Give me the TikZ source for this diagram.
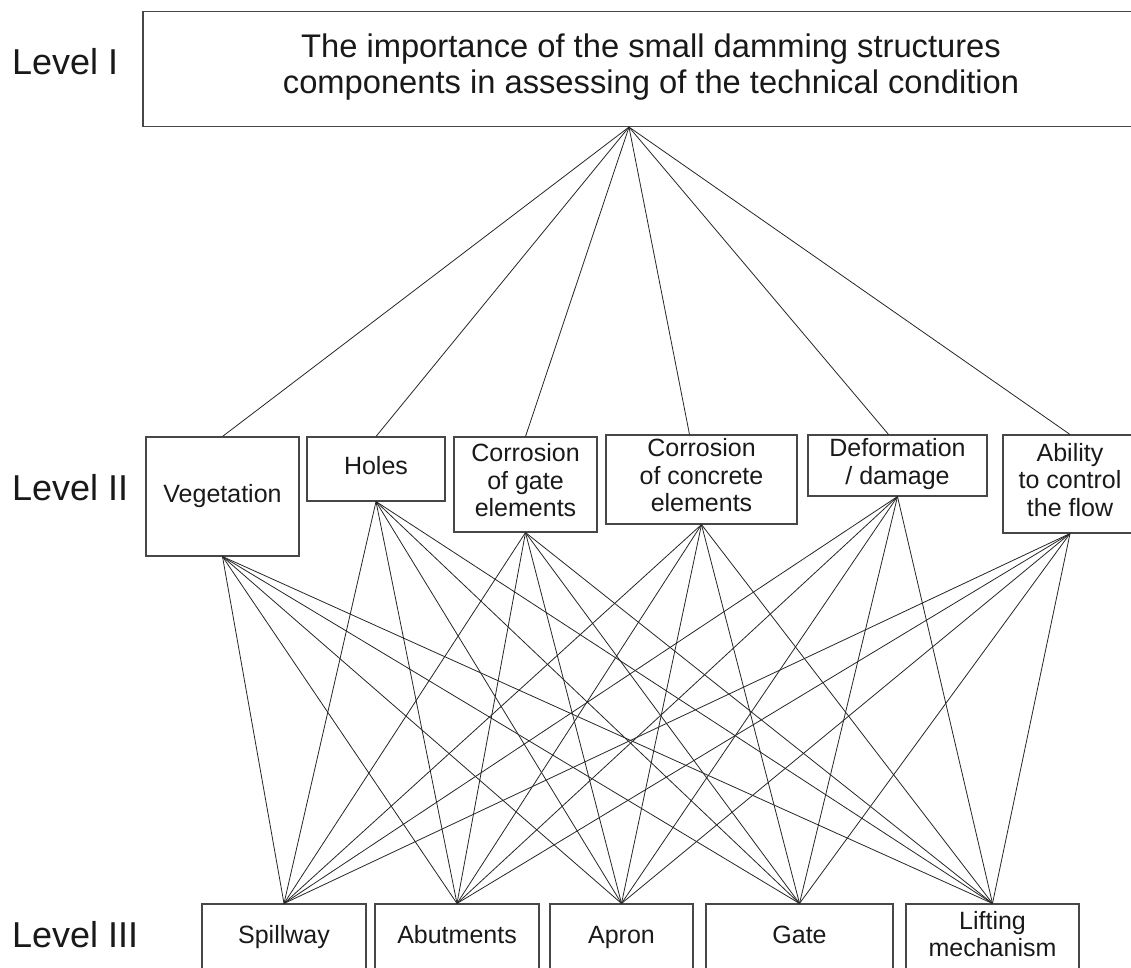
\documentclass[tikz,border=0pt]{standalone}
\usepackage{fontspec}
\setmainfont{Liberation Sans}
\begin{document}
\begin{tikzpicture}[x=1pt,y=-1pt,
  box/.style={draw=black!72, line width=1.1pt, inner sep=0pt, align=center,
    font=\fontsize{25}{27.5}\selectfont, text=black!90,
    execute at begin node=\strut, execute at end node=\strut},
  link/.style={draw=black!85, line width=0.8pt},
  lvl/.style={anchor=base west, font=\fontsize{36}{40}\selectfont, inner sep=0pt, text=black!90}]
\useasboundingbox (0,0) rectangle (1131,967);

% Level I
\node[box, minimum width=1016pt, minimum height=115pt, font=\fontsize{32.7}{36}\selectfont] (top) at (651,69)
  {The importance of the small damming structures\\components in assessing of the technical condition};
\coordinate (topC) at ([xshift=-22pt]top.south);

% Level II
\node[box, minimum width=153pt, minimum height=119pt] (veg) at (222.5,496.5) {Vegetation};
\node[box, minimum width=138pt, minimum height=64pt] (holes) at (376,469) {Holes};
\node[box, minimum width=143pt, minimum height=95pt] (cgate) at (525.5,484.5) {Corrosion\\of gate\\elements};
\node[box, minimum width=191pt, minimum height=89pt] (conc) at (701.5,479.5) {Corrosion\\of concrete\\elements};
\node[box, minimum width=179pt, minimum height=61pt] (deform) at (897.5,465.5) {Deformation\\/ damage};
\node[box, minimum width=134pt, minimum height=98pt] (abil) at (1070,484) {Ability\\to control\\the flow};
\coordinate (concN) at ([xshift=-12pt]conc.north);
\coordinate (defN) at ([xshift=-9pt]deform.north);

% Level III
\node[box, minimum width=164pt, minimum height=68pt] (spill) at (284,938) {Spillway};
\node[box, minimum width=164pt, minimum height=68pt] (abut) at (457,938) {Abutments};
\node[box, minimum width=143pt, minimum height=68pt] (apron) at (621.5,938) {Apron};
\node[box, minimum width=187pt, minimum height=68pt] (gate) at (799.5,938) {Gate};
\node[box, minimum width=173pt, minimum height=68pt] (lift) at (992.5,938) {Lifting\\mechanism};

% Level labels
\node[lvl] (l1) at (12,74) {Level I};
\node[lvl] (l2) at (12,500) {Level II};
\node[lvl] (l3) at (12,947) {Level III};

% connectors Level I -> Level II
\foreach \a in {veg,holes,cgate,abil}
  \draw[link] (topC) -- (\a.north);
\draw[link] (topC) -- (concN);
\draw[link] (topC) -- (defN);

% connectors Level II -> Level III
\foreach \a in {veg,holes,cgate,conc,deform,abil}
  \foreach \b in {spill,abut,apron,gate,lift}
    \draw[link] (\a.south) -- (\b.north);
\end{tikzpicture}
\end{document}
